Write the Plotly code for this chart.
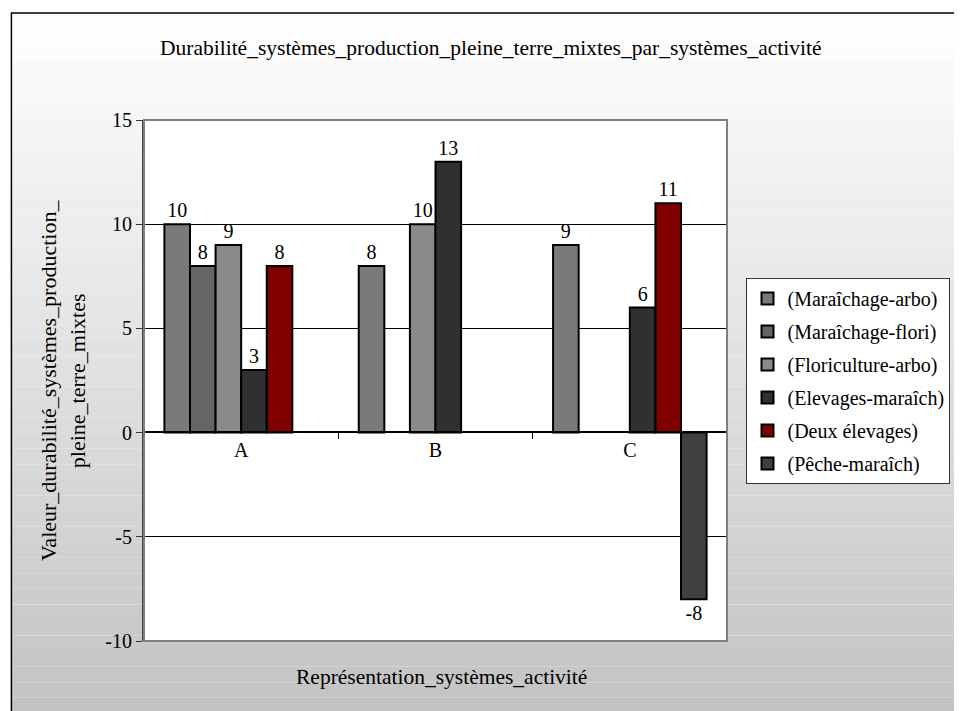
import plotly.graph_objects as go

categories = ["A", "B", "C"]
series_names = ["(Maraîchage-arbo)", "(Maraîchage-flori)", "(Floriculture-arbo)",
                "(Elevages-maraîch)", "(Deux élevages)", "(Pêche-maraîch)"]
maraichage_arbo = [10, 8, 9]
maraichage_flori = [8, None, None]
floriculture_arbo = [9, 10, None]
elevages_maraich = [3, 13, 6]
deux_elevages = [8, None, 11]
peche_maraich = [None, None, -8]
series_values = [maraichage_arbo, maraichage_flori, floriculture_arbo,
                 elevages_maraich, deux_elevages, peche_maraich]
series_colors = ["#7a7a7a", "#656565", "#8a8a8a", "#303030", "#800000", "#404040"]
y_ticks = [-10, -5, 0, 5, 10, 15]
y_tick_labels = ["-10", "-5", "0", "5", "10", "15"]

FONT = "Liberation Serif"

fig = go.Figure()
for i, (name, vals, col) in enumerate(zip(series_names, series_values, series_colors)):
    fig.add_trace(go.Bar(
        x=categories, y=vals, name=name, legendgroup=f"g{i}",
        marker=dict(color=col, line=dict(color="black", width=2)),
        text=[("" if v is None else str(v)) for v in vals],
        textposition="outside", constraintext="none", cliponaxis=False,
        textfont=dict(family=FONT, size=20, color="black"),
    ))

# page offset (body margin) compensation
OFF = 8
W, H = 962 - OFF, 711 - OFF
L, R, T, B = 144 - OFF, 220, 120 - OFF, 70
pw, ph = W - L - R, H - T - B

def px(x):
    return (x - OFF - L) / pw

def py(y):
    return (H + OFF - B - y) / ph

shapes = []
n = 48
top_px, bot_px = 13, 760
for k in range(n):
    y0 = top_px + (bot_px - top_px) * k / n
    y1 = top_px + (bot_px - top_px) * (k + 1) / n
    ym = (y0 + y1) / 2
    v = int(round(255 - (ym - 13) * (60 / 698)))
    v = max(190, min(255, v))
    shapes.append(dict(type="rect", xref="paper", yref="paper",
                       x0=px(8), x1=px(1000), y0=py(y1), y1=py(y0),
                       fillcolor=f"rgb({v},{v},{v})", line=dict(width=0), layer="below"))
shapes.append(dict(type="rect", xref="paper", yref="paper", x0=0, x1=1, y0=0, y1=1,
                   fillcolor="white", line=dict(width=0), layer="below"))
shapes.append(dict(type="rect", xref="paper", yref="paper", x0=0, x1=1, y0=0, y1=1,
                   line=dict(color="#808080", width=2), layer="above"))
shapes.append(dict(type="rect", xref="paper", yref="paper",
                   x0=px(8), x1=px(1000), y0=py(760), y1=py(13),
                   line=dict(color="black", width=1.5), layer="above"))

fig.update_layout(
    width=W, height=H,
    margin=dict(l=L, r=R, t=T, b=B),
    paper_bgcolor="white", plot_bgcolor="white",
    barmode="group", bargap=0.21, bargroupgap=0,
    font=dict(family=FONT, size=20, color="black"),
    showlegend=True,
    legend=dict(x=px(762), y=py(278), xanchor="left", yanchor="top",
                bgcolor="white", bordercolor="#333333", borderwidth=1,
                font=dict(family=FONT, size=20, color="black"),
                traceorder="grouped", tracegroupgap=4),
    shapes=shapes,
    annotations=[
        dict(text="Durabilité_systèmes_production_pleine_terre_mixtes_par_systèmes_activité",
             xref="paper", yref="paper", x=px(500), y=py(48), showarrow=False,
             xanchor="center", yanchor="middle", font=dict(family=FONT, size=21.5)),
        dict(text="Représentation_systèmes_activité",
             xref="paper", yref="paper", x=px(449), y=py(677), showarrow=False,
             xanchor="center", yanchor="middle", font=dict(family=FONT, size=21.5)),
        dict(text="Valeur_durabilité_systèmes_production_<br>pleine_terre_mixtes",
             xref="paper", yref="paper", x=px(61), y=py(381), showarrow=False,
             textangle=-90, xanchor="center", yanchor="middle",
             font=dict(family=FONT, size=22)),
    ],
)

fig.update_yaxes(range=[-10, 15], tickvals=y_ticks, ticktext=y_tick_labels,
                 ticks="outside", ticklen=6,
                 tickcolor="#333333", showline=True, linecolor="#404040", linewidth=2,
                 showgrid=True, gridcolor="black", gridwidth=1, zeroline=False,
                 tickfont=dict(family=FONT, size=20))
fig.update_xaxes(type="category", anchor="free", position=py(432),
                 showline=True, linecolor="black", linewidth=1.5,
                 ticks="outside", tickson="boundaries", ticklen=6, tickcolor="black",
                 showgrid=False, tickfont=dict(family=FONT, size=20))

fig.write_html("out.html")
